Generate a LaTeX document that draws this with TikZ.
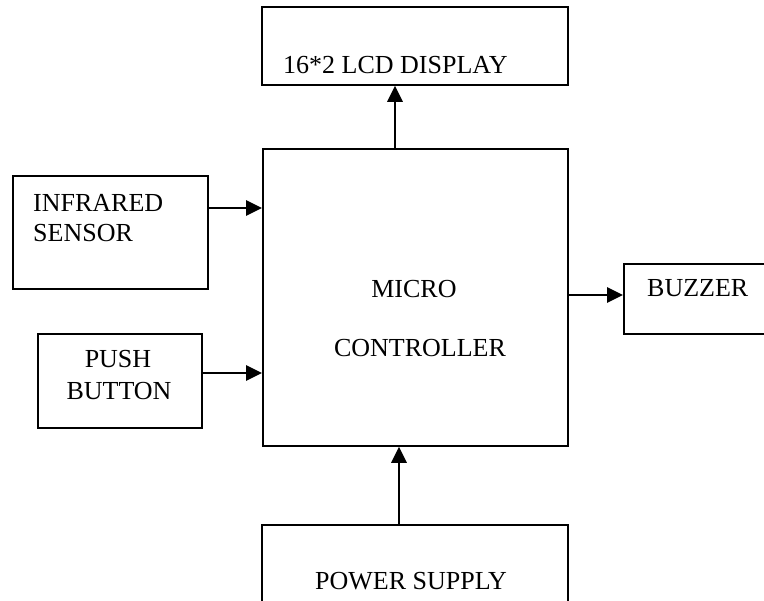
\documentclass[tikz,border=0pt]{standalone}
\usepackage{fontspec}
\setmainfont{Liberation Serif}
\usetikzlibrary{arrows.meta}
\tikzset{
  blk/.style={ draw, line width=1.8pt, inner sep=0pt, anchor=north west }
}
\tikzset{
  txtl/.style={ anchor=base west, inner sep=0pt, font=\fontsize{26}{30}\selectfont }
}
\tikzset{
  txtc/.style={ anchor=base, inner sep=0pt, font=\fontsize{26}{30}\selectfont }
}
\tikzset{
  sig/.style={ line width=2.8pt, -{Triangle[length=16pt, width=15pt]} }
}

\begin{document}
\begin{tikzpicture}[x=1pt, y=-1pt]
      \useasboundingbox (0, 0) rectangle (764, 601);
      \clip (0, 0) rectangle (764, 601);

      \node[blk, minimum width=306pt, minimum height=78pt] (lcd) at (261, 6) {};
      \node[blk, minimum width=305pt, minimum height=297pt] (mc) at (262, 148) {};
      \node[blk, minimum width=195pt, minimum height=113pt] (ir) at (12, 175) {};
      \node[blk, minimum width=164pt, minimum height=94pt] (pb) at (37, 333) {};
      \node[blk, minimum width=200pt, minimum height=70pt] (bz) at (623, 263) {};
      \node[blk, minimum width=306pt, minimum height=120pt] (ps) at (261, 524) {};

      \node[txtl] (lcdtxt) at (283, 74) {16*2 LCD DISPLAY};
      \node[txtl] (irtxtA) at (33, 212) {INFRARED};
      \node[txtl] (irtxtB) at (33, 242) {SENSOR};
      \node[txtc] (pbtxtA) at (118, 368) {PUSH};
      \node[txtc] (pbtxtB) at (119, 400) {BUTTON};
      \node[txtc] (mctxtA) at (414, 298) {MICRO};
      \node[txtc] (mctxtB) at (420, 357) {CONTROLLER};
      \node[txtl] (bztxt) at (647, 297) {BUZZER};
      \node[txtl] (pstxt) at (315, 590) {POWER SUPPLY};

      \draw[sig] (mc.north -| 395, 0) -- (lcd.south -| 395, 0);
      \draw[sig] (ir.east |- 0, 208) -- (mc.west |- 0, 208);
      \draw[sig] (pb.east |- 0, 373) -- (mc.west |- 0, 373);
      \draw[sig] (mc.east |- 0, 295) -- (bz.west |- 0, 295);
      \draw[sig] (ps.north -| 399, 0) -- (mc.south -| 399, 0);
    \end{tikzpicture}
\end{document}
